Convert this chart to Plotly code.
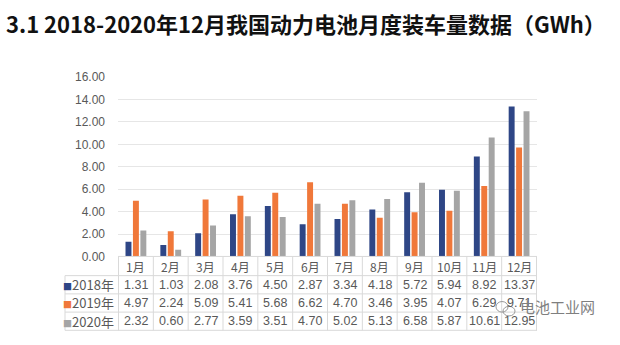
import plotly.graph_objects as go

months = ["1月", "2月", "3月", "4月", "5月", "6月", "7月", "8月", "9月", "10月", "11月", "12月"]
series_names = ["2018年", "2019年", "2020年"]
v2018 = [1.31, 1.03, 2.08, 3.76, 4.50, 2.87, 3.34, 4.18, 5.72, 5.94, 8.92, 13.37]
v2019 = [4.97, 2.24, 5.09, 5.41, 5.68, 6.62, 4.70, 3.46, 3.95, 4.07, 6.29, 9.71]
v2020 = [2.32, 0.60, 2.77, 3.59, 3.51, 4.70, 5.02, 5.13, 6.58, 5.87, 10.61, 12.95]
yticks = [0, 2, 4, 6, 8, 10, 12, 14, 16]
title_text = "3.1 2018-2020年12月我国动力电池月度装车量数据（GWh）"
watermark = "电池工业网"

colors = ["#2E4686", "#F0783A", "#A5A5A5"]
W, H = 620, 345
def px(x): return x / W
def py(y): return 1 - y / H

FONT_NUM = "Liberation Sans, Noto Sans CJK SC, sans-serif"
FONT_CJK = "Noto Sans CJK SC, sans-serif"
TXT = "#595959"
LINE = "#D9D9D9"

fig = go.Figure()
for name, vals, c in zip(series_names, [v2018, v2019, v2020], colors):
    fig.add_trace(go.Bar(x=months, y=vals, name=name, marker=dict(color=c, line=dict(width=0))))

plot_l, plot_r = 118, 537
y_top, y_bot = 73, 260
row_lines = [260, 280, 299, 318, 337]
row_centers = [270, 289.5, 308.5, 327.5]

fig.update_layout(
    width=W, height=H,
    margin=dict(l=0, r=0, t=0, b=0),
    paper_bgcolor="white", plot_bgcolor="white",
    showlegend=False,
    barmode="group", bargap=0.36, bargroupgap=0.2,
    xaxis=dict(domain=[px(plot_l), px(plot_r)], showticklabels=False, showgrid=False,
               zeroline=False, showline=False, ticks=""),
    yaxis=dict(domain=[py(y_bot), py(y_top)], range=[0, 16], tickvals=yticks,
               ticktext=[f"{t:.2f}" for t in yticks], showgrid=True, gridcolor="#E6E6E6",
               gridwidth=1, zeroline=False, showline=False, ticks="",
               ticklabelstandoff=12,
               tickfont=dict(family=FONT_NUM, size=12, color=TXT)),
)

shapes = []
# horizontal table lines
shapes.append(dict(type="line", xref="paper", yref="paper", x0=px(plot_l), x1=px(plot_r),
                   y0=py(row_lines[0]), y1=py(row_lines[0]), line=dict(color=LINE, width=1)))
for yl in row_lines[1:]:
    shapes.append(dict(type="line", xref="paper", yref="paper", x0=px(65), x1=px(plot_r),
                       y0=py(yl), y1=py(yl), line=dict(color=LINE, width=1)))
# vertical table lines
for k in range(len(months) + 1):
    shapes.append(dict(type="line", xref="x", yref="paper", x0=k - 0.5, x1=k - 0.5,
                       y0=py(row_lines[0]), y1=py(row_lines[-1]), line=dict(color=LINE, width=1)))
shapes.append(dict(type="line", xref="paper", yref="paper", x0=px(65), x1=px(65),
                   y0=py(row_lines[1]), y1=py(row_lines[-1]), line=dict(color=LINE, width=1)))

# watermark icon (approximation)
shapes.append(dict(type="circle", xref="paper", yref="paper", x0=px(496), x1=px(508),
                   y0=py(318), y1=py(307), line=dict(color="#9A9A9A", width=1)))
shapes.append(dict(type="circle", xref="paper", yref="paper", x0=px(503), x1=px(515),
                   y0=py(322), y1=py(312), line=dict(color="#9A9A9A", width=1)))

annotations = []
annotations.append(dict(text=f"<b>{title_text}</b>", xref="paper", yref="paper", x=px(4), y=py(17),
                        xanchor="left", yanchor="middle", showarrow=False,
                        font=dict(family=FONT_CJK, size=22, color="#111111")))
for m in months:
    annotations.append(dict(text=m, x=m, xref="x", yref="paper", y=py(row_centers[0]),
                            xanchor="center", yanchor="middle", showarrow=False,
                            font=dict(family=FONT_CJK, size=12, color=TXT)))
for r, (name, vals, c) in enumerate(zip(series_names, [v2018, v2019, v2020], colors)):
    yc = py(row_centers[r + 1])
    annotations.append(dict(text=f"<span style='color:{c};font-size:9px'>■</span>{name}",
                            xref="paper", yref="paper", x=px(116), y=yc, xanchor="right",
                            yanchor="middle", showarrow=False,
                            font=dict(family=FONT_CJK, size=13, color=TXT)))
    for m, v in zip(months, vals):
        annotations.append(dict(text=f"{v:.2f}", x=m, xref="x", yref="paper", y=yc,
                                xanchor="center", yanchor="middle", showarrow=False,
                                font=dict(family=FONT_NUM, size=12.5, color=TXT)))

annotations.append(dict(text=watermark, xref="paper", yref="paper", x=px(518), y=py(312),
                        xanchor="left", yanchor="middle", showarrow=False,
                        font=dict(family=FONT_CJK, size=15, color="#7F7F7F")))

fig.update_layout(shapes=shapes, annotations=annotations)
fig.write_html("out.html")
